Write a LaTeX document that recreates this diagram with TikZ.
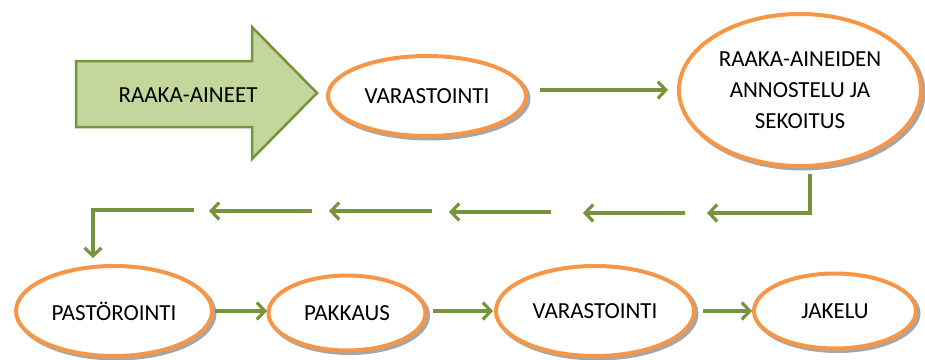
\documentclass[tikz,border=0pt]{standalone}
\usepackage{fontspec}
\setmainfont{Carlito}
\usetikzlibrary{shapes.geometric,arrows.meta,shadows}
\definecolor{olive}{HTML}{77933C}
\definecolor{lightolive}{HTML}{C3D69B}
\definecolor{orng}{HTML}{F79646}
\tikzset{
  proc/.style={ellipse, draw=orng, line width=4pt, fill=white, inner sep=0pt,
    font=\fontsize{23}{31}\selectfont, align=center,
    drop shadow={shadow xshift=2.5pt, shadow yshift=-2.5pt, fill=gray!70, draw=gray!70, line width=4pt, opacity=1}},
  flow/.style={draw=olive, line width=3.2pt, -{Straight Barb[length=8pt,width=17pt]}},
}
\begin{document}
\begin{tikzpicture}[x=1pt,y=-1pt]
\useasboundingbox (0,0) rectangle (925,359);
% big input arrow
\draw[draw=olive, fill=lightolive, line width=2.5pt, line join=miter]
  (76,61) -- (252,61) -- (252,27) -- (317,93) -- (252,159) -- (252,127) -- (76,127) -- cycle;
\node[font=\fontsize{23}{31}\selectfont] (raw) at (188,95) {RAAKA-AINEET};
% top row
\node[proc, minimum width=198pt, minimum height=80pt] (var1) at (427,96) {VARASTOINTI};
\node[proc, minimum width=242pt, minimum height=152pt] (mix) at (800,90) {RAAKA-AINEIDEN\\ANNOSTELU JA\\SEKOITUS};
% bottom row
\node[proc, minimum width=196pt, minimum height=90pt] (past) at (114,311) {PASTÖROINTI};
\node[proc, minimum width=157pt, minimum height=75pt] (pak) at (347,313) {PAKKAUS};
\node[proc, minimum width=198pt, minimum height=90pt] (var2) at (595,311) {VARASTOINTI};
\node[proc, minimum width=162pt, minimum height=75pt] (jak) at (835,311) {JAKELU};
% connector coordinates
\coordinate (a1) at (540,90);
\coordinate (a2) at (668,90);
\coordinate (c0) at (810,174);
\coordinate (c1) at (810,213);
\coordinate (h1) at (707,213);
\coordinate (s2) at (685,213);
\coordinate (h2) at (583,213);
\coordinate (s3) at (551,212);
\coordinate (h3) at (449,212);
\coordinate (s4) at (432,211);
\coordinate (h4) at (329,211);
\coordinate (s5) at (312,211);
\coordinate (h5) at (209,211);
\coordinate (s6) at (194,210);
\coordinate (c6) at (93,210);
\coordinate (c7) at (93,258);
\draw[flow] (a1) -- (a2);
\draw[flow, line join=miter] (c0) -- (c1) -- (h1);
\draw[flow] (s2) -- (h2);
\draw[flow] (s3) -- (h3);
\draw[flow] (s4) -- (h4);
\draw[flow] (s5) -- (h5);
\draw[flow, line join=miter] (s6) -- (c6) -- (c7);
\coordinate (b1s) at (215,311);
\coordinate (b1e) at (267,311);
\coordinate (b2s) at (433,311);
\coordinate (b2e) at (493,311);
\coordinate (b3s) at (703,311);
\coordinate (b3e) at (752,311);
\draw[flow] (b1s) -- (b1e);
\draw[flow] (b2s) -- (b2e);
\draw[flow] (b3s) -- (b3e);
\end{tikzpicture}
\end{document}
